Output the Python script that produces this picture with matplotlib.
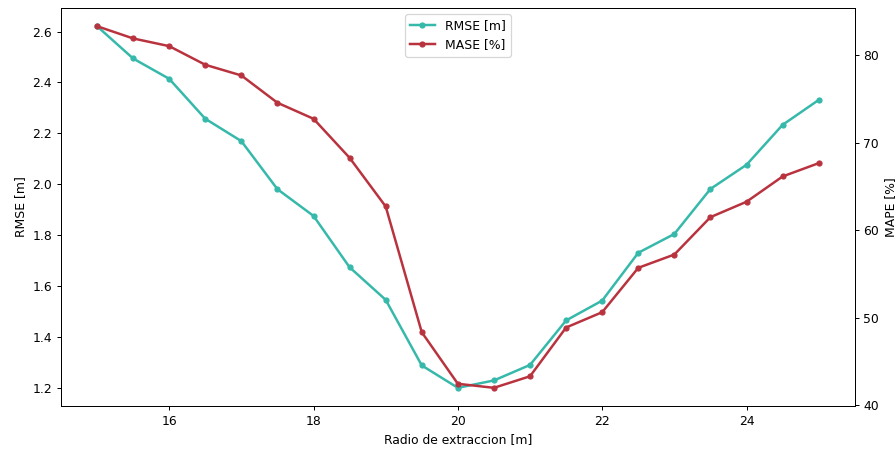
import matplotlib
matplotlib.use("Agg")
import matplotlib.pyplot as plt

radio = [15, 15.5, 16, 16.5, 17, 17.5, 18, 18.5, 19, 19.5, 20,
         20.5, 21, 21.5, 22, 22.5, 23, 23.5, 24, 24.5, 25]
rmse = [2.621, 2.494, 2.414, 2.257, 2.169, 1.980, 1.875, 1.673, 1.545, 1.287, 1.199,
        1.228, 1.289, 1.464, 1.542, 1.730, 1.804, 1.981, 2.076, 2.233, 2.331]
mase = [83.31, 81.91, 81.03, 78.90, 77.68, 74.56, 72.73, 68.27, 62.71, 48.34, 42.45,
        41.99, 43.31, 48.88, 50.63, 55.70, 57.22, 61.49, 63.25, 66.14, 67.66]

teal = "#36b9aa"
red = "#b9333f"

DPI = 89.6
fig, ax1 = plt.subplots(figsize=(896 / DPI, 450 / DPI), dpi=DPI)
fig.subplots_adjust(left=0.068, right=0.954, top=0.982, bottom=0.098)

l1, = ax1.plot(radio, rmse, color=teal, marker="o", markersize=4, linewidth=2, label="RMSE [m]")
ax1.set_xlabel("Radio de extraccion [m]")
ax1.set_ylabel("RMSE [m]")

ax2 = ax1.twinx()
l2, = ax2.plot(radio, mase, color=red, marker="o", markersize=4, linewidth=2, label="MASE [%]")
ax2.set_ylabel("MAPE [%]")

ax1.legend(handles=[l1, l2], loc="upper center")

fig.savefig("out.png", dpi=DPI)
